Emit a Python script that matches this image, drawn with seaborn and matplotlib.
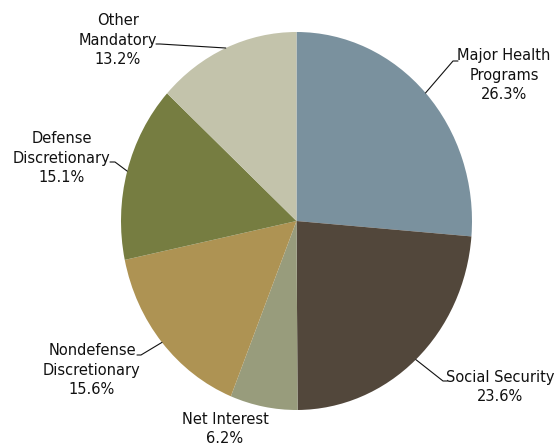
import numpy as np
import matplotlib
matplotlib.use("Agg")
import matplotlib.pyplot as plt
import seaborn as sns

sns.set_theme(style="white")
plt.rcParams["font.family"] = ["DejaVu Sans"]

# Federal outlays by category (percent of total)
categories = ["Major Health\nPrograms", "Social Security", "Net Interest",
              "Nondefense\nDiscretionary", "Defense\nDiscretionary", "Other\nMandatory"]
shares = [26.3, 23.6, 6.2, 15.6, 15.1, 13.2]
colors = ["#7a919e", "#52473b", "#989c7c", "#ae9353", "#767d41", "#c3c3ab"]

W, H = 558, 444
fig = plt.figure(figsize=(W / 100, H / 100), dpi=100)
ax = fig.add_axes([0, 0, 1, 1])

# pie geometry in pixels (slightly taller than wide)
cx, cy, rx, ry = 296.5, 221.0, 175.5, 189.0

wedges, _ = ax.pie(shares, colors=colors, startangle=90, counterclock=False,
                   radius=1.0, wedgeprops=dict(linewidth=0))
ax.set_aspect("auto")
ax.set_xlim(-cx / rx, (W - cx) / rx)
ax.set_ylim((cy - H) / ry, cy / ry)
ax.axis("off")


def to_data(px, py):
    return (px - cx) / rx, (cy - py) / ry


# label placement: text centre, elbow and stub end (pixels)
label_layout = [
    dict(text=(504, 75), elbow=(453, 61), stub=(458, 61)),
    dict(text=(500, 387), elbow=(443, 381), stub=(447, 381)),
    dict(text=(225, 429), elbow=None, stub=None),
    dict(text=(92, 370), elbow=(141, 355), stub=(137, 355)),
    dict(text=(62, 158), elbow=(115, 162), stub=(110, 162)),
    dict(text=(118, 40), elbow=(160, 44), stub=(156, 44)),
]

for w, name, val, lay in zip(wedges, categories, shares, label_layout):
    mid = np.deg2rad((w.theta1 + w.theta2) / 2)
    edge = (np.cos(mid), np.sin(mid))
    tx, ty = to_data(*lay["text"])
    ax.text(tx, ty, f"{name}\n{val:.1f}%", ha="center", va="center",
            fontsize=10.5, color="#111111", linespacing=1.38)
    if lay["elbow"] is not None:
        ex, ey = to_data(*lay["elbow"])
        sx, sy = to_data(*lay["stub"])
        ax.plot([edge[0], ex, sx], [edge[1], ey, sy], color="#111111", lw=0.8)

fig.savefig("out.png", dpi=100, facecolor="white")
